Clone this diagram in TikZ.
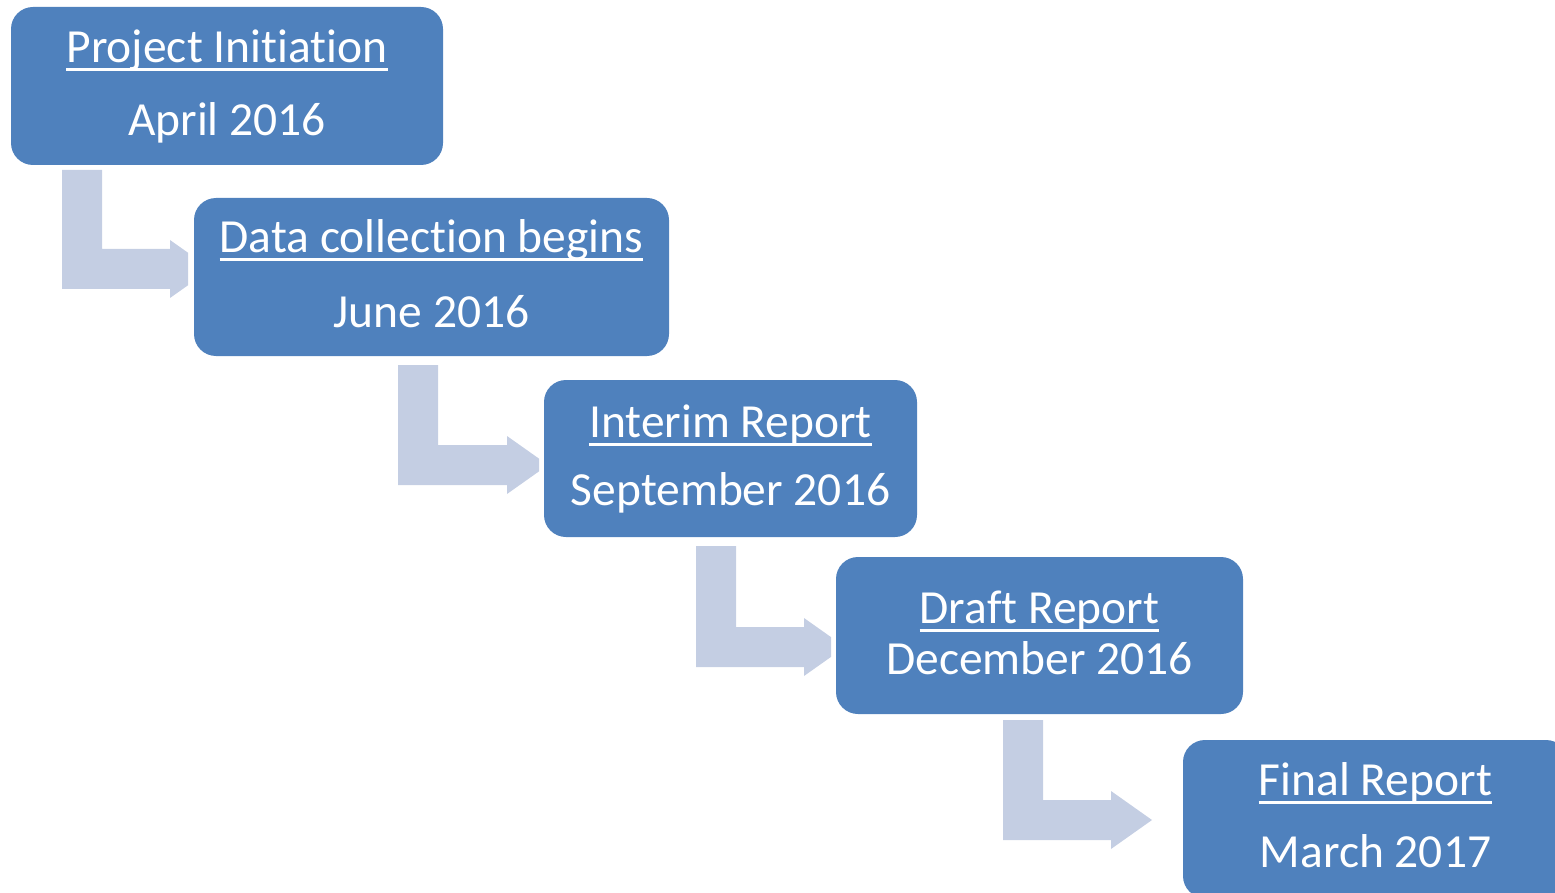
\documentclass[tikz,border=0pt]{standalone}
\usepackage{fontspec}
\setmainfont{Carlito}[Ligatures={NoCommon}]
\definecolor{boxblue}{HTML}{4F81BD}
\definecolor{arrowblue}{HTML}{C4CEE3}
\newcommand{\bentarr}[5]{%
  \begin{scope}
    \clip (#1-1,#2-1) rectangle (#5,#3+40);
    \fill[arrowblue] (#1,#2) -- (#1+40,#2) -- (#1+40,#3-20) -- (#4,#3-20) -- (#4,#3-29)
      -- (#4+41,#3) -- (#4,#3+29) -- (#4,#3+20) -- (#1,#3+20) -- cycle;
  \end{scope}}
\begin{document}
\begin{tikzpicture}[x=1pt,y=-1pt,
  box/.style={rectangle, rounded corners=22pt, fill=boxblue, draw=none, inner sep=0pt, outer sep=0pt, minimum height=158pt},
  txt/.style={anchor=base, inner sep=0pt, text=white, font=\fontsize{47.5}{56}\selectfont},
  uline/.style={white, line width=3pt}]
\useasboundingbox (0,0) rectangle (1555,893);
\clip (0,0) rectangle (1555,893);
% arrows
\bentarr{62}{170}{269}{170}{188}
\bentarr{398}{365}{465}{507}{539}
\bentarr{696}{546}{647}{804}{831}
\bentarr{1003}{720}{820}{1111}{1152}
% boxes
\node[box, minimum width=432pt] (b1) at (227,86) {};
\node[box, minimum width=475pt] (b2) at (431.5,277) {};
\node[box, minimum width=373pt, minimum height=157pt] (b3) at (730.5,458.5) {};
\node[box, minimum width=407pt, minimum height=157pt] (b4) at (1039.5,635.5) {};
\node[box, minimum width=385pt] (b5) at (1375.5,819) {};
% texts
\node[txt] (t1a) at (227,63) {Project Initiation};
\node[txt] (t1b) at (227,136) {April 2016};
\node[txt] (t2a) at (431.5,253) {Data collection begins};
\node[txt] (t2b) at (431.5,327) {June 2016};
\node[txt] (t3a) at (730.5,437) {Interim Report};
\node[txt] (t3b) at (730.5,505) {September 2016};
\node[txt] (t4a) at (1039.5,623) {Draft Report};
\node[txt] (t4b) at (1039.5,674) {December 2016};
\node[txt] (t5a) at (1375.5,795) {Final Report};
\node[txt] (t5b) at (1375.5,867) {March 2017};
\foreach \t in {t1a,t2a,t3a,t4a,t5a}
  \draw[uline] ([yshift=-7pt]\t.base west) -- ([yshift=-7pt]\t.base east);
\end{tikzpicture}
\end{document}
